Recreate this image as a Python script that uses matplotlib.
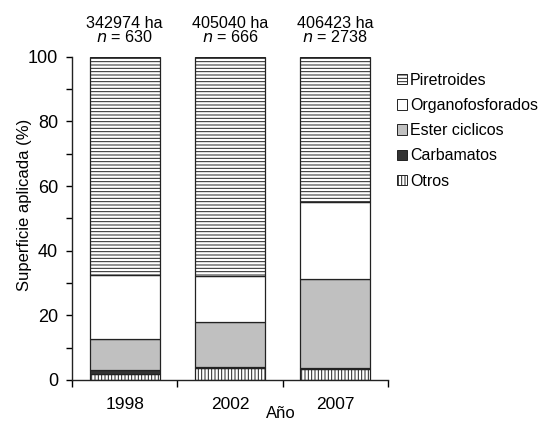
import matplotlib
matplotlib.use("Agg")
import matplotlib.pyplot as plt
import numpy as np
from matplotlib.patches import Patch

plt.rcParams['font.family'] = ['Liberation Sans', 'DejaVu Sans']
plt.rcParams['hatch.linewidth'] = 0.7
plt.rcParams['hatch.color'] = '#555555'

years = ["1998", "2002", "2007"]
areas = ["342974 ha", "405040 ha", "406423 ha"]
ns = ["630", "666", "2738"]
series = ["Otros", "Carbamatos", "Ester ciclicos", "Organofosforados", "Piretroides"]
otros = [1.7, 3.6, 3.5]
carbamatos = [1.3, 0.3, 0.1]
ester = [9.8, 14.1, 27.6]
organo = [19.6, 14.2, 23.9]
piretroides = [67.6, 67.8, 44.9]

values = [otros, carbamatos, ester, organo, piretroides]
facecolors = ["white", "#333333", "#c0c0c0", "white", "white"]
hatches = ["|||||", None, None, None, "-----"]

fig = plt.figure(figsize=(5.39, 4.21), dpi=100)
ax = fig.add_axes([0.1336, 0.0974, 0.7199 - 0.1336, 0.8653 - 0.0974])

x = np.arange(len(years))
bottom = np.zeros(len(years))
for name, vals, fc, h in zip(series, values, facecolors, hatches):
    ax.bar(x, vals, bottom=bottom, width=0.665, color=fc, hatch=h,
           edgecolor='#222222', linewidth=0.9, label=name)
    bottom += np.array(vals)

ax.set_xlim(-0.5, 2.5)
ax.set_ylim(0, 100)
ax.spines['top'].set_visible(False)
ax.spines['right'].set_visible(False)
for s in ['left', 'bottom']:
    ax.spines[s].set_color('#222222')
    ax.spines[s].set_linewidth(1.0)

ax.set_xticks(x)
ax.set_xticklabels(years, fontsize=12.5)
ax.tick_params(axis='x', which='major', length=0, pad=12)
ax.set_xticks([-0.5, 0.5, 1.5, 2.5], minor=True)
ax.tick_params(axis='x', which='minor', length=5, direction='out', width=1)

ax.set_yticks([0, 20, 40, 60, 80, 100])
ax.set_yticklabels(["0", "20", "40", "60", "80", "100"], fontsize=13)
ax.set_yticks(np.arange(10, 100, 20), minor=True)
ax.tick_params(axis='y', which='both', length=4.5, direction='out', width=1, pad=5.5)

ax.set_ylabel("Superficie aplicada (%)", fontsize=12)
ax.yaxis.set_label_coords(-0.127, 0.543)
ax.set_xlabel("Año", fontsize=12)
ax.xaxis.set_label_coords(0.661, -0.080)

for xi, a, n in zip(x, areas, ns):
    ax.text(xi, 110.3, a, ha='center', va='center', fontsize=11.6)
    ax.text(xi, 106.0, f"$\\it{{n}}$ = {n}", ha='center', va='center', fontsize=11.6)

handles = [Patch(facecolor=fc, hatch=h, edgecolor='#222222', linewidth=0.7, label=nm)
           for nm, fc, h in zip(series, facecolors, hatches)]
handles = handles[::-1]
leg = fig.legend(handles=handles, loc='upper left', bbox_to_anchor=(0.7365, 0.827),
                 frameon=False, fontsize=11.5, handlelength=0.625, handleheight=0.625,
                 handletextpad=0.2, labelspacing=0.64, borderpad=0, borderaxespad=0)

fig.savefig("out.png", dpi=100)
